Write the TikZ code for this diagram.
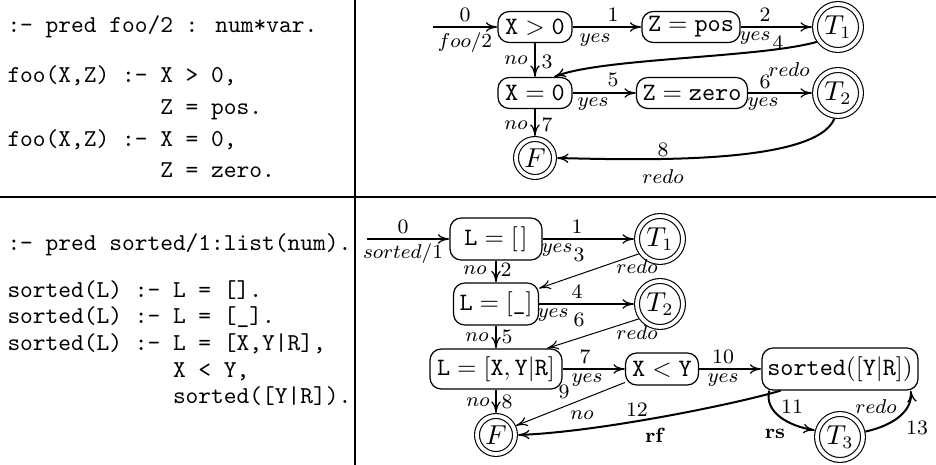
\documentclass[tikz,border=0pt]{standalone}
\usetikzlibrary{arrows.meta}
\begin{document}
\begin{tikzpicture}[x=0.4pt,y=-0.4pt,
  box/.style={draw, line width=0.5pt, rounded corners=4.5pt, inner sep=0pt, font=\fontsize{9.6}{11}\selectfont},
  fin/.style={circle, draw, double, line width=0.45pt, double distance=1.5pt, inner sep=0pt, outer sep=1.2pt, font=\fontsize{10.5}{12}\selectfont},
  tfin/.style={fin, minimum size=18.4pt},
  ffin/.style={fin, minimum size=15.2pt},
  lab/.style={inner sep=0pt, font=\fontsize{8.2}{9}\selectfont},
  code/.style={anchor=base west, inner sep=0pt, font=\ttfamily\fontsize{9.7}{11}\selectfont},
  arr/.style={line width=0.8pt, -{To[length=4.6pt,width=3.8pt,line width=0.5pt]}},
  tarr/.style={line width=0.4pt, -{To[length=4.6pt,width=3.8pt,line width=0.45pt]}},
  sepline/.style={line width=0.8pt}
]
\useasboundingbox (0,0) rectangle (936,465);
% separators
\draw[sepline] (0,197) -- (936,197);
\draw[sepline] (355,0) -- (355,465);

% ---------- code, top ----------
\node[code] (c1) at (7,33) {:- pred foo/2 : num*var.};
\node[code] (c2) at (7,83) {foo(X,Z) :- X > 0,};
\node[code] (c3) at (7,115) {\phantom{foo(X,Z) :- }Z = pos.};
\node[code] (c4) at (7,147) {foo(X,Z) :- X = 0,};
\node[code] (c5) at (7,178) {\phantom{foo(X,Z) :- }Z = zero.};

% ---------- code, bottom ----------
\node[code] (d1) at (7,251) {:- pred sorted/1:list(num).};
\node[code] (d2) at (7,298) {sorted(L) :- L = [].};
\node[code] (d3) at (7,324) {sorted(L) :- L = [\_].};
\node[code] (d4) at (7,351) {sorted(L) :- L = [X,Y|R],};
\node[code] (d5) at (7,378) {\phantom{sorted(L) :- }X < Y,};
\node[code] (d6) at (7,404) {\phantom{sorted(L) :- }sorted([Y|R]).};

% ---------- top graph ----------
\coordinate (e1) at (433,27);
\node[box, minimum width=29.6pt, minimum height=12.4pt] (xg) at (535,27) {$\mathtt{X}>\mathtt{0}$};
\node[box, minimum width=39.2pt, minimum height=12.4pt] (zp) at (691,27) {$\mathtt{Z}=\mathtt{pos}$};
\node[tfin] (t1) at (838,27) {$T_1$};
\node[box, minimum width=29.6pt, minimum height=12.4pt] (xe) at (535,93) {$\mathtt{X}=\mathtt{0}$};
\node[box, minimum width=44.4pt, minimum height=12.4pt] (zz) at (692,93) {$\mathtt{Z}=\mathtt{zero}$};
\node[tfin] (t2) at (838,93) {$T_2$};
\node[ffin] (f) at (535,158) {$F$};

\draw[arr] (e1) -- (xg.west);
\draw[arr] (xg.east) -- (zp.west);
\draw[arr] (zp.east) -- (t1.west);
\draw[arr] (xg.south) -- (xe.north);
\draw[arr] (xe.east) -- (zz.west);
\draw[arr] (zz.east) -- (t2.west);
\draw[arr] (xe.south) -- (f.north);
\draw[arr] (t1.215) .. controls (760,58) and (600,58) .. (xe.40);
\draw[arr] (t2.262) .. controls (815,165) and (640,160) .. (f.east);

\node[lab] (l0) at (465,15) {0};
\node[lab] (lfoo) at (465,43) {$foo/2$};
\node[lab] (l1) at (613,15) {1};
\node[lab] (ly1) at (595,40) {$yes$};
\node[lab] (l2) at (765,15) {2};
\node[lab] (ly2) at (755,38) {$yes$};
\node[lab] (l4) at (778,43) {4};
\node[lab] (ln3) at (516,60) {$no$};
\node[lab] (l3) at (547,62) {3};
\node[lab] (l5) at (613,80) {5};
\node[lab] (ly5) at (593,104) {$yes$};
\node[lab] (l6) at (765,82) {6};
\node[lab] (lr6) at (789,70) {$redo$};
\node[lab] (ly6) at (763,104) {$yes$};
\node[lab] (ln7) at (516,125) {$no$};
\node[lab] (l7) at (547,125) {7};
\node[lab] (l8) at (663,150) {8};
\node[lab] (lr8) at (663,177) {$redo$};

% ---------- bottom graph ----------
\coordinate (e2) at (367,239);
\node[box, minimum width=36.8pt, minimum height=16.8pt] (ln) at (496,239) {$\mathtt{L}=[\mskip2mu]$};
\node[tfin] (u1) at (660,239) {$T_1$};
\node[box, minimum width=34pt, minimum height=16.8pt] (lo) at (496,304) {$\mathtt{L}=[\texttt{\_}]$};
\node[tfin] (u2) at (660,304) {$T_2$};
\node[box, minimum width=52.8pt, minimum height=16pt] (lc) at (496,369) {$\mathtt{L}=[\mathtt{X},\mathtt{Y}|\mathtt{R}]$};
\node[box, minimum width=29.2pt, minimum height=12.8pt] (xy) at (662,369) {$\mathtt{X}<\mathtt{Y}$};
\node[box, minimum width=62.4pt, minimum height=16.8pt] (so) at (840,369) {$\mathtt{sorted}([\mathtt{Y}|\mathtt{R}])$};
\node[ffin] (fb) at (496,435) {$F$};
\node[tfin] (u3) at (840,437) {$T_3$};

\draw[arr] (e2) -- (ln.west);
\draw[arr] (ln.east) -- (u1.west);
\draw[arr] (ln.south) -- (lo.north);
\draw[arr] (lo.east) -- (u2.west);
\draw[arr] (lo.south) -- (lc.north);
\draw[arr] (lc.east) -- (xy.west);
\draw[arr] (xy.east) -- (so.west);
\draw[arr] (lc.south) -- (fb.north);
\draw[tarr] (u1.215) -- (lo.20);
\draw[tarr] (u2.215) -- (lc.22);
\draw[tarr] (xy.200) -- (fb.25);
\draw[arr] (so.200) .. controls (740,403) and (600,432) .. (fb.east);
\draw[arr] (so.197) .. controls (764,412) and (788,426) .. (u3.165);
\draw[arr] (u3.12) .. controls (895,425) and (913,410) .. (so.343);

\node[lab] (b0) at (403,227) {0};
\node[lab] (bsort) at (403,254) {$sorted/1$};
\node[lab] (b1) at (577,227) {1};
\node[lab] (by1) at (557,250) {$yes$};
\node[lab] (b3) at (579,255) {3};
\node[lab] (br3) at (637,267) {$redo$};
\node[lab] (bn2) at (475,270) {$no$};
\node[lab] (b2) at (506,270) {2};
\node[lab] (b4) at (577,292) {4};
\node[lab] (by4) at (553,315) {$yes$};
\node[lab] (b6) at (579,320) {6};
\node[lab] (br6) at (637,333) {$redo$};
\node[lab] (bn5) at (477,337) {$no$};
\node[lab] (b5) at (507,337) {5};
\node[lab] (b7) at (585,357) {7};
\node[lab] (by7) at (587,380) {$yes$};
\node[lab] (b9) at (564,392) {9};
\node[lab] (bn8) at (478,402) {$no$};
\node[lab] (b8) at (507,402) {8};
\node[lab] (bn9) at (582,415) {$no$};
\node[lab] (b12) at (637,410) {12};
\node[lab] (brf) at (655,435) {\textbf{rf}};
\node[lab] (b10) at (723,357) {10};
\node[lab] (by10) at (723,380) {$yes$};
\node[lab] (b11) at (792,407) {11};
\node[lab] (brs) at (775,434) {\textbf{rs}};
\node[lab] (br13) at (876,407) {$redo$};
\node[lab] (b13) at (917,428) {13};
\end{tikzpicture}
\end{document}
